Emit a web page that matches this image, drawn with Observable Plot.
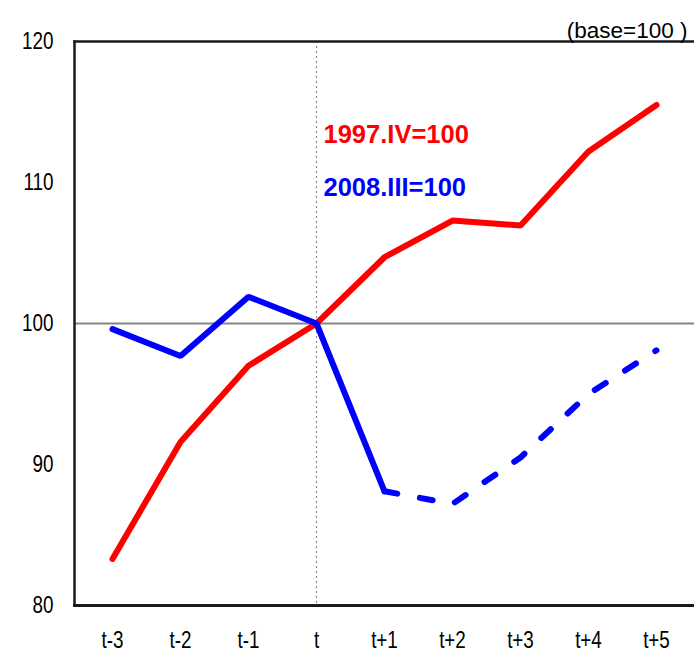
<!DOCTYPE html>
<html>
<head>
<meta charset="utf-8">
<script src="https://cdn.jsdelivr.net/npm/d3@7"></script>
<script src="https://cdn.jsdelivr.net/npm/@observablehq/plot@0.6"></script>
<style>
  html, body { margin: 0; padding: 0; background: #fff; }
</style>
</head>
<body>
<div id="chart"></div>
<script>
const periods = ["t-3", "t-2", "t-1", "t", "t+1", "t+2", "t+3", "t+4", "t+5"];
const red1997 = [83.3, 91.6, 97.0, 100, 104.7, 107.3, 106.95, 112.2, 115.5];
const blue2008 = [99.6, 97.7, 101.9, 100, 88.1, 87.2, 90.5, 95.0, 98.1];
const blueActualLast = "t+1"; // solid up to t+1, dashed (projection) after
const yTicks = [80, 90, 100, 110, 120];
const labelRed = "1997.IV=100";
const labelBlue = "2008.III=100";
const baseNote = "(base=100 )";

const redData = periods.map((p, i) => ({p, v: red1997[i]}));
const cut = periods.indexOf(blueActualLast);
const blueSolid = periods.slice(0, cut + 1).map((p, i) => ({p, v: blue2008[i]}));
const blueDash = periods.slice(cut).map((p, i) => ({p, v: blue2008[cut + i]}));

const sans = "'Liberation Sans', Arial, sans-serif";

const chart = Plot.plot({
  width: 694,
  height: 650,
  marginLeft: 74,
  marginRight: 0,
  marginTop: 41,
  marginBottom: 45,
  style: {fontFamily: sans, fontSize: "23px", color: "#000", background: "#fff"},
  x: {type: "point", domain: periods, padding: 0.5},
  y: {domain: [80, 120]},
  marks: [
    Plot.ruleY([100], {stroke: "#858585", strokeWidth: 2}),
    Plot.ruleX(["t"], {stroke: "#8a8a8a", strokeWidth: 1.2, strokeDasharray: "2,3"}),
    Plot.line(redData, {x: "p", y: "v", stroke: "#ff0000", strokeWidth: 6, strokeLinecap: "round", strokeLinejoin: "miter"}),
    Plot.line(blueSolid, {x: "p", y: "v", stroke: "#0000ff", strokeWidth: 6, strokeLinecap: "round", strokeLinejoin: "miter"}),
    Plot.line(blueDash, {x: "p", y: "v", stroke: "#0000ff", strokeWidth: 6, strokeDasharray: "13,23"}),
    Plot.frame({anchor: "left", stroke: "#1a1a1a", strokeWidth: 2.5}),
    Plot.frame({anchor: "top", stroke: "#1a1a1a", strokeWidth: 2.5}),
    Plot.frame({anchor: "bottom", stroke: "#1a1a1a", strokeWidth: 3}),
    Plot.axisY({ticks: yTicks, tickSize: 0, tickPadding: 21, label: null, fontSize: 23}),
    Plot.axisX({tickSize: 0, tickPadding: 26, label: null, fontSize: 23}),
    Plot.text([labelRed], {frameAnchor: "top-left", dx: 249, dy: 83, textAnchor: "start", fill: "#ff0000", fontWeight: "bold", fontSize: 25.5}),
    Plot.text([labelBlue], {frameAnchor: "top-left", dx: 249, dy: 136, textAnchor: "start", fill: "#0000ff", fontWeight: "bold", fontSize: 25.5}),
    Plot.text([baseNote], {frameAnchor: "top-right", dx: -7, dy: -19, textAnchor: "end", fill: "#000", fontSize: 22.5})
  ]
});
// condensed look of the tick labels (Arial Narrow-like)
d3.select(chart).selectAll('g[aria-label$="tick label"] text').each(function() {
  const t = this.getAttribute("transform") || "";
  this.setAttribute("transform", t + " scale(0.82,1)");
});
document.getElementById("chart").appendChild(chart);
</script>
</body>
</html>
